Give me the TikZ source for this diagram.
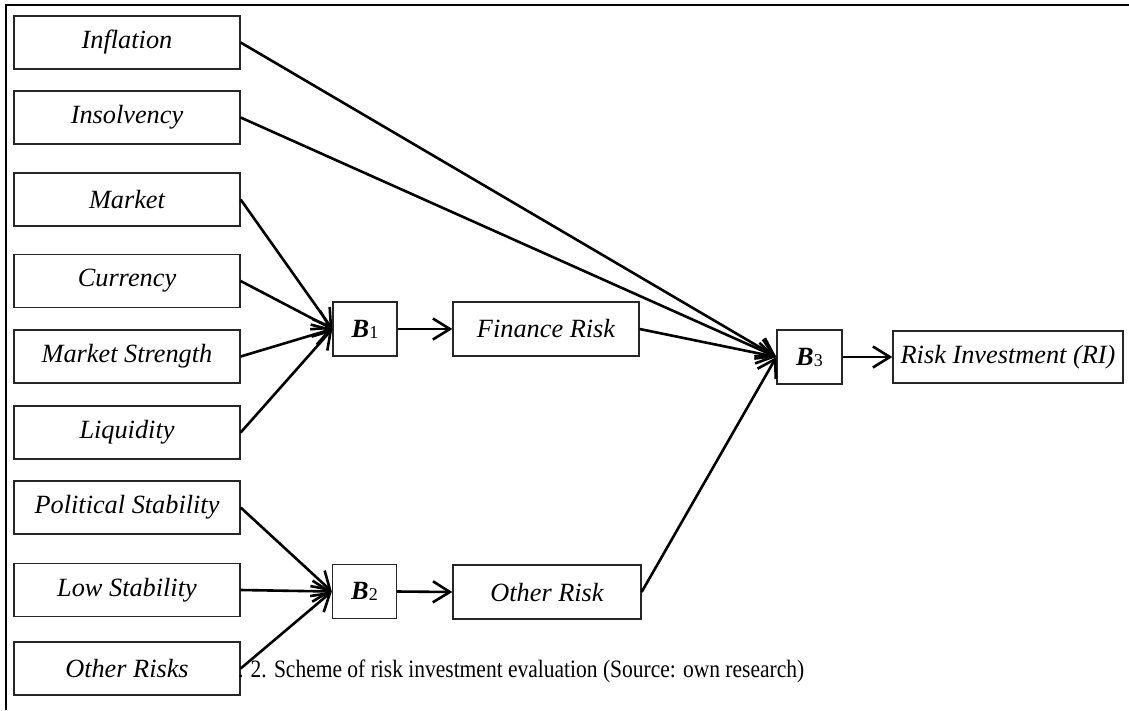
\documentclass[tikz,border=0pt]{standalone}
\usepackage{fontspec}
\setmainfont{Liberation Serif}
\usetikzlibrary{arrows.meta}
\begin{document}
\begin{tikzpicture}[x=1pt,y=-1pt,
  box/.style={draw=black!85, line width=1.3pt, minimum height=53pt, inner sep=0pt, font=\fontsize{26.3}{30}\selectfont\itshape},
  lbox/.style={box, minimum width=226pt},
  bbox/.style={box, minimum width=64pt, font=\fontsize{26.3}{30}\selectfont},
  conn/.style={line width=2.6pt, -{Straight Barb[length=17pt,width=21pt]}},
  frameline/.style={line width=2.3pt},
  captiontext/.style={inner sep=0pt, anchor=base west, font=\fontsize{25}{30}\selectfont\addfontfeature{FakeStretch=0.86}}
]
\useasboundingbox (0,0) rectangle (1129,710);
\draw[frameline] (1129,5) -- (6,5) -- (6,710);

\newcommand{\bsub}[1]{{\bfseries\itshape B}\raisebox{-1pt}{\fontsize{18}{18}\selectfont #1}}

\node[lbox] (inf) at (127,42.5) {Inflation};
\node[lbox] (ins) at (127,117.5) {Insolvency};
\node[lbox] (mkt) at (127,199.5) {Market};
\node[lbox] (cur) at (127,281) {Currency};
\node[lbox] (ms)  at (127,356.5) {Market Strength};
\node[lbox] (liq) at (127,432.5) {Liquidity};
\node[lbox] (pol) at (127,507.5) {Political Stability};
\node[lbox] (low) at (127,590) {Low Stability};
\node[lbox] (oth) at (127,668.5) {Other Risks};

\node[bbox, minimum height=54pt] (b1) at (365,329) {\bsub{1}};
\node[box, minimum width=186pt, minimum height=54pt] (fin) at (546,329) {Finance Risk};
\node[bbox, minimum height=54pt] (b2) at (364.5,591.5) {\bsub{2}};
\node[box, minimum width=188pt, minimum height=54pt] (othr) at (547,592) {Other Risk};
\node[bbox, minimum width=65pt, minimum height=54pt] (b3) at (809.5,357) {\bsub{3}};
\node[box, minimum width=230pt, minimum height=52pt] (ri) at (1008,357) {Risk Investment (RI)};

\node[captiontext] (caption) at (238,677) {. 2. Scheme of risk investment evaluation (Source: own research)};

\draw[conn] (mkt.east) -- (b1.west);
\draw[conn] (cur.east) -- (b1.west);
\draw[conn] (ms.east) -- (b1.west);
\draw[conn] (liq.east) -- (b1.west);
\draw[conn] (b1.east) -- (fin.west);

\draw[conn] (pol.east) -- (b2.west);
\draw[conn] (low.east) -- (b2.west);
\draw[conn] (oth.east) -- (b2.west);
\draw[conn] (b2.east) -- (othr.west);

\draw[conn] (inf.east) -- (b3.west);
\draw[conn] (ins.east) -- (b3.west);
\draw[conn] (fin.east) -- (b3.west);
\draw[conn] (othr.east) -- (b3.west);
\draw[conn] (b3.east) -- (ri.west);
\end{tikzpicture}
\end{document}
